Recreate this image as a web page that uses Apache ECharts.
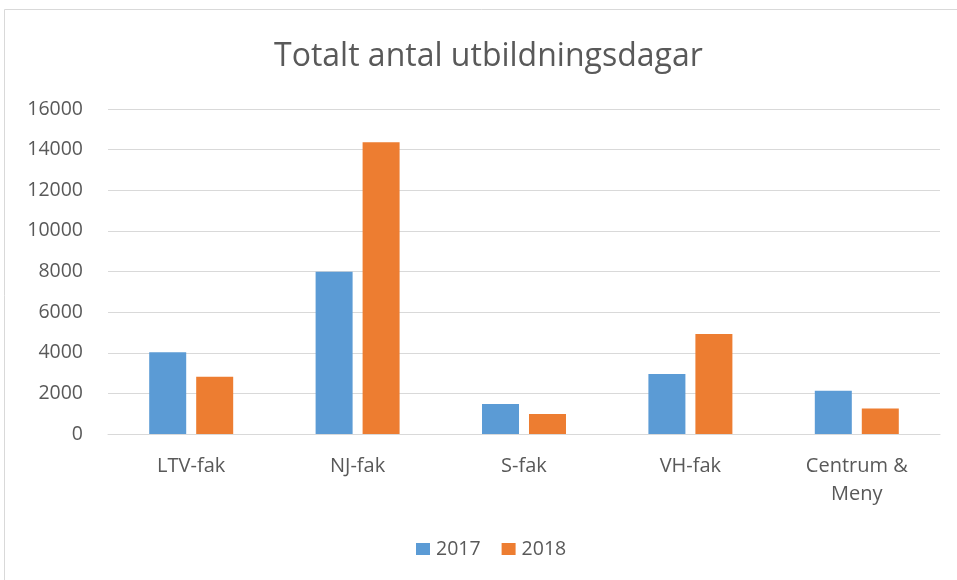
<!DOCTYPE html>
<html>
<head>
<meta charset="utf-8">
<script src="https://cdn.jsdelivr.net/npm/echarts@6/dist/echarts.min.js"></script>
<style>
  html, body { margin: 0; padding: 0; background: #fff; }
  #chart { width: 957px; height: 580px; }
</style>
</head>
<body>
<div id="chart"></div>
<script>
// data
var categories = ['LTV-fak', 'NJ-fak', 'S-fak', 'VH-fak', 'Centrum &\nMeny'];
var values2017 = [4020, 7990, 1480, 2950, 2130];
var values2018 = [2820, 14360, 985, 4920, 1250];
var yTicks = { min: 0, max: 16000, interval: 2000 };

var textColor = '#595959';
var font = '"Open Sans", "Noto Sans", sans-serif';

var chart = echarts.init(document.getElementById('chart'));

chart.setOption({
  animation: false,
  textStyle: { fontFamily: font },
  graphic: [{
    type: 'rect',
    shape: { x: 4.5, y: 9.5, width: 960, height: 600 },
    style: { fill: 'none', stroke: '#d9d9d9', lineWidth: 1 },
    silent: true
  }],
  title: {
    text: 'Totalt antal utbildningsdagar',
    left: 269,
    top: 36,
    textStyle: { fontFamily: font, fontSize: 32, fontWeight: 'normal', color: textColor }
  },
  legend: {
    top: 534,
    left: 411,
    itemWidth: 14,
    itemHeight: 12,
    itemGap: 21,
    icon: 'rect',
    textStyle: { fontFamily: font, fontSize: 19.5, color: textColor, padding: [0, 0, 0, 1] },
    data: ['2017', '2018']
  },
  grid: { left: 108, right: 17, top: 109, bottom: 146 },
  xAxis: {
    type: 'category',
    data: categories,
    axisLine: { lineStyle: { color: '#d9d9d9', width: 1 } },
    axisTick: { show: false },
    axisLabel: { color: textColor, fontSize: 20, margin: 18, lineHeight: 28, fontFamily: font }
  },
  yAxis: {
    type: 'value',
    min: yTicks.min,
    max: yTicks.max,
    interval: yTicks.interval,
    axisLine: { show: false },
    axisTick: { show: false },
    splitLine: { lineStyle: { color: '#d9d9d9', width: 1 } },
    axisLabel: {
      color: textColor, fontSize: 19.5, margin: 25, fontFamily: font,
      formatter: function (v) { return String(v); }
    }
  },
  series: [
    {
      name: '2017',
      type: 'bar',
      data: values2017,
      barWidth: 37,
      barGap: '27%',
      itemStyle: { color: '#5b9bd5' }
    },
    {
      name: '2018',
      type: 'bar',
      data: values2018,
      barWidth: 37,
      barGap: '27%',
      itemStyle: { color: '#ed7d31' }
    }
  ]
});
</script>
</body>
</html>
